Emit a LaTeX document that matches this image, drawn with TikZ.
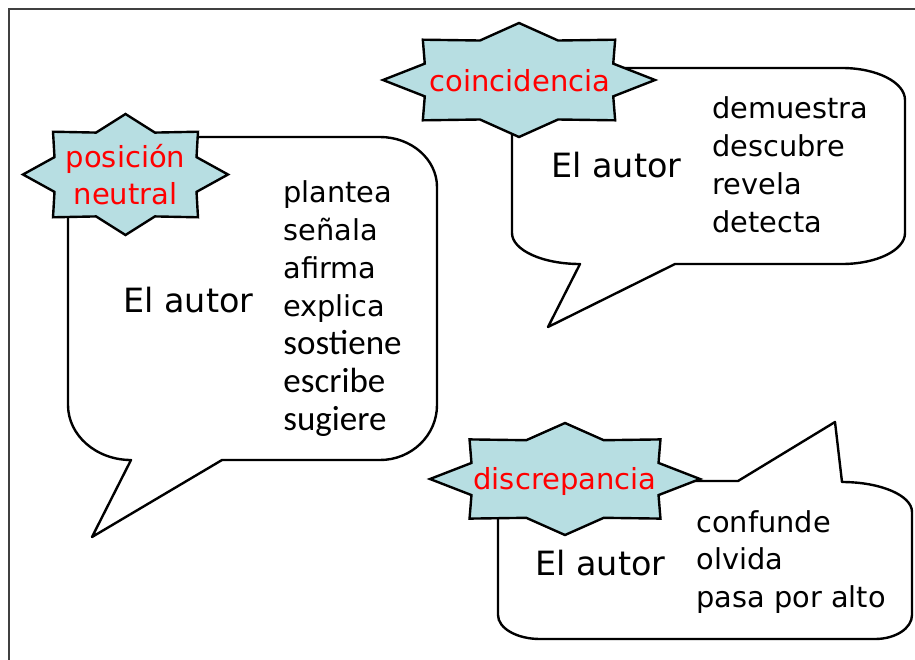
\documentclass[tikz,border=0pt]{standalone}
\usepackage{fontspec}
\setmainfont{DejaVu Sans}
\newfontfamily\calfont{Carlito}
\usetikzlibrary{positioning}
\definecolor{burstcol}{RGB}{183,222,226}

\begin{document}
\begin{tikzpicture}[
    x=0.5pt, y=-0.5pt,
    bubble/.style={line width=1.2pt, draw=black, line join=round},
    burst/.style={line width=1.2pt, draw=black, fill=burstcol, line join=miter},
    burstlabel/.style={text=red, font=\fontsize{14.5}{17}\selectfont, inner sep=0pt, anchor=base},
    authortext/.style={font=\fontsize{16.7}{20}\selectfont, inner sep=0pt, anchor=base west},
    verbtext/.style={font=\fontsize{14.4}{17}\selectfont, inner sep=0pt, anchor=base west},
    verbcal/.style={font=\calfont\fontsize{17.5}{20}\selectfont, inner sep=0pt, anchor=base west}
]
    \useasboundingbox (0, 0) rectangle (915, 659);
    % Frame
    \draw [black!75, line width=0.75pt] (9, 670) -- (9, 9) -- (925, 9);

    % Bubble: posicion neutral
    % - [Fig: speech bubble]
    \draw [bubble] (68, 210) -- (68, 405)
        arc [start angle=180, end angle=90, x radius=63, y radius=55]
        -- (92, 537) -- (222, 460) -- (380, 460)
        arc [start angle=90, end angle=0, x radius=57, y radius=55]
        -- (437, 187)
        arc [start angle=0, end angle=-90, x radius=57, y radius=50]
        -- (190, 137);
    % -- The star on its corner
    \draw [burst, shift={(125.5, 174.5)}] plot [samples at={0,22.5,...,337.5}]
        ({102.5*(0.875+0.125*cos(8*\x))*cos(\x)}, {60.5*(0.875+0.125*cos(8*\x))*sin(\x)}) -- cycle;
    \node at (125.5, 167) [burstlabel](neutralA){posición};
    \node at (125.5, 204) [burstlabel](neutralB){neutral};
    % - [Text]
    \node at (123, 312) [authortext](autorA){El autor};
    \node at (283, 202) [verbtext](plantea){plantea};
    \node at (283, 240) [verbtext](senala){señala};
    \node at (283, 278) [verbtext](afirma){afirma};
    \node at (283, 316) [verbtext](explica){explica};
    \node at (283, 354) [verbcal](sostiene){sostiene};
    \node at (283, 392) [verbcal](escribe){escribe};
    \node at (283, 430) [verbcal](sugiere){sugiere};

    % Bubble: coincidencia
    % - [Fig: speech bubble]
    \draw [bubble] (512, 130) -- (512, 233)
        arc [start angle=180, end angle=90, x radius=68, y radius=31]
        -- (548, 327) -- (675, 264) -- (842, 264)
        arc [start angle=90, end angle=0, x radius=63, y radius=31]
        -- (905, 100)
        arc [start angle=0, end angle=-90, x radius=63, y radius=32]
        -- (620, 68);
    % -- The star on its corner
    \draw [burst, shift={(519, 80)}] plot [samples at={0,22.5,...,337.5}]
        ({136*(0.875+0.125*cos(8*\x))*cos(\x)}, {57*(0.875+0.125*cos(8*\x))*sin(\x)}) -- cycle;
    \node at (520, 91) [burstlabel](coinc){coincidencia};
    % - [Text]
    \node at (551, 177) [authortext](autorB){El autor};
    \node at (712, 118) [verbtext](demuestra){demuestra};
    \node at (712, 156) [verbtext](descubre){descubre};
    \node at (712, 194) [verbtext](revela){revela};
    \node at (712, 232) [verbtext](detecta){detecta};

    % Bubble: discrepancia
    % - [Fig: speech bubble, tail on top]
    \draw [bubble] (498, 510) -- (498, 615)
        arc [start angle=180, end angle=90, x radius=42, y radius=24]
        -- (875, 639)
        arc [start angle=90, end angle=0, x radius=37, y radius=24]
        -- (912, 512)
        arc [start angle=0, end angle=-90, x radius=70, y radius=30]
        -- (835, 422) -- (738, 481) -- (690, 481);
    % -- The star on its corner
    \draw [burst, shift={(565, 479)}] plot [samples at={0,22.5,...,337.5}]
        ({135*(0.875+0.125*cos(8*\x))*cos(\x)}, {56*(0.875+0.125*cos(8*\x))*sin(\x)}) -- cycle;
    \node at (565, 489) [burstlabel](discr){discrepancia};
    % - [Text]
    \node at (535, 575) [authortext](autorC){El autor};
    \node at (696, 532) [verbtext](confunde){confunde};
    \node at (696, 569.5) [verbtext](olvida){olvida};
    \node at (696, 607) [verbtext](pasa){pasa por alto};

\end{tikzpicture}
\end{document}
